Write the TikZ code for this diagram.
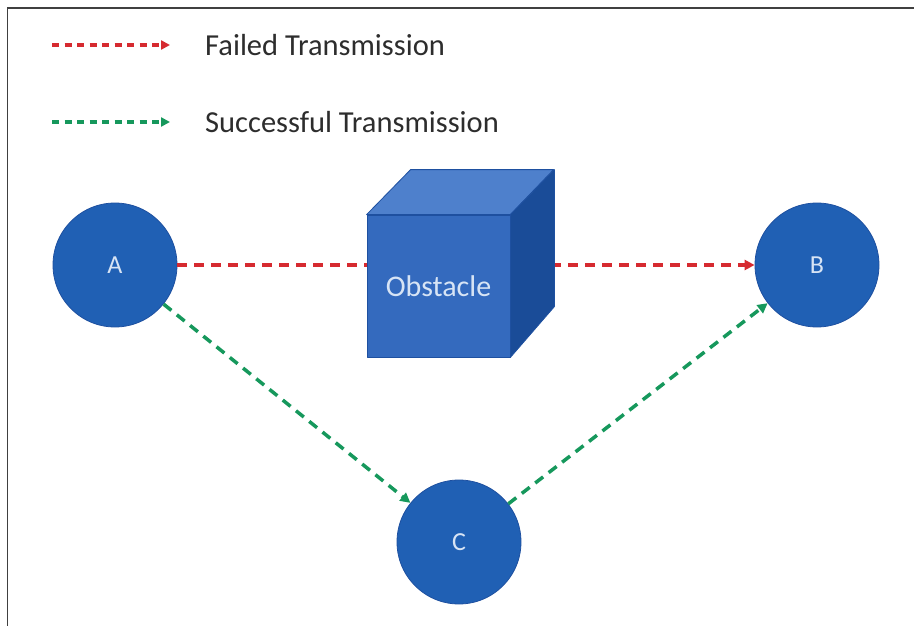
\documentclass[tikz,border=0pt]{standalone}
\usepackage{fontspec}
\setmainfont{Carlito}
\usetikzlibrary{arrows.meta}
\definecolor{nodeblue}{RGB}{32,96,180}
\definecolor{frontblue}{RGB}{52,106,190}
\definecolor{topblue}{RGB}{78,128,204}
\definecolor{sideblue}{RGB}{26,76,152}
\definecolor{edgeblue}{RGB}{30,80,160}
\definecolor{failred}{RGB}{214,42,48}
\definecolor{okgreen}{RGB}{22,152,92}
\definecolor{lbl}{RGB}{215,228,245}
\definecolor{txt}{RGB}{45,45,45}
\tikzset{
  station/.style={circle, fill=nodeblue, draw=edgeblue, line width=0.8pt, minimum size=124pt, inner sep=0pt, text=lbl, font=\fontsize{26}{28}\selectfont},
  link/.style={line width=3.5pt, dash pattern=on 10pt off 7pt, -{Triangle[length=10pt,width=10pt]}},
  legendlink/.style={line width=3.5pt, dash pattern=on 7pt off 5.5pt, -{Triangle[length=9pt,width=9pt]}},
  legendtext/.style={anchor=west, text=txt, font=\fontsize{30.5}{33}\selectfont, inner sep=0pt},
  face/.style={draw=edgeblue, line width=0.8pt, line join=round}
}
\begin{document}
\begin{tikzpicture}[x=1pt,y=-1pt]
\useasboundingbox (0,0) rectangle (914,626);
\fill[white] (0,0) rectangle (914,626);
% frame
\draw[line width=1.5pt, black!75] (7.5,626) -- (7.5,8) -- (914,8);
% legend
\coordinate (r1) at (52,45);
\coordinate (r2) at (170,45);
\coordinate (g1) at (52,122);
\coordinate (g2) at (170,122);
\draw[legendlink, failred] (r1) -- (r2);
\draw[legendlink, okgreen] (g1) -- (g2);
\node[legendtext] (lf) at (205,45) {Failed Transmission};
\node[legendtext] (ls) at (205,122) {Successful Transmission};
% stations
\node[station] (A) at (115,265) {A};
\node[station] (B) at (817,265) {B};
\node[station] (C) at (459,542) {C};
% links
\draw[link, failred] (A) -- (B);
\draw[link, okgreen] (A) -- (C);
\draw[link, okgreen] (C) -- (B);
% obstacle cube
\node[face, fill=frontblue, minimum width=143pt, minimum height=142pt, inner sep=0pt, text=lbl, font=\fontsize{30}{32}\selectfont] (obs) at (438.5,286) {Obstacle};
\fill[topblue, face] (obs.north west) -- ++(44pt,45pt) -- ++(143pt,0pt) -- (obs.north east) -- cycle;
\fill[sideblue, face] (obs.north east) -- ++(44pt,45pt) -- ++(0pt,-137pt) -- (obs.south east) -- cycle;
\end{tikzpicture}
\end{document}
